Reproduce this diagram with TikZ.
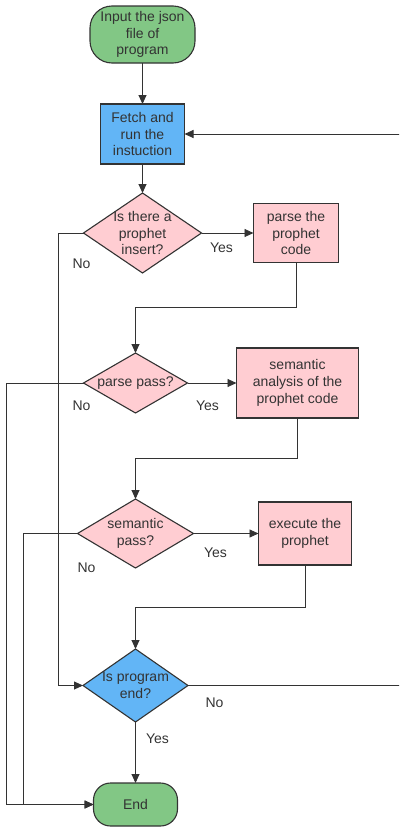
\documentclass[tikz,border=0pt]{standalone}
\usepackage{fontspec}
\setmainfont{Liberation Sans}
\usepackage{tikz}
\usetikzlibrary{arrows.meta, positioning, shapes.geometric}

\definecolor{ink}{HTML}{333333}
\definecolor{termgreen}{HTML}{82C785}
\definecolor{stepblue}{HTML}{62B5F6}
\definecolor{boxpink}{HTML}{FFCDD2}

\begin{document}
\begin{tikzpicture}[
  x=1pt, y=1pt,
  every node/.style={font=\fontsize{14}{16.7}\selectfont, text=ink, align=center, outer sep=0pt},
  terminal/.style={rectangle, draw=ink, line width=1.1pt, rounded corners=22pt, fill=termgreen, inner sep=0pt},
  process/.style={rectangle, draw=ink, line width=1.1pt, fill=boxpink, inner sep=0pt},
  decision/.style={diamond, draw=ink, line width=1.1pt, fill=boxpink, inner sep=-14pt},
  tag/.style={inner sep=0pt},
  arrow/.style={-{Triangle[length=9pt, width=8pt]}, draw=ink, line width=0.9pt},
  line/.style={draw=ink, line width=0.9pt}
]
\useasboundingbox (0,0) rectangle (399,-830);
\clip (0,0) rectangle (399,-830);

% Main column
\node[terminal, minimum width=105pt, minimum height=57pt] (start) at (142.5,-34.5) {Input the json\\file of\\program};
\node[process, fill=stepblue, minimum width=84pt, minimum height=60pt, below=41pt of start] (fetch) {Fetch and\\run the\\instuction};
\node[decision, minimum width=118pt, minimum height=80pt, below=29pt of fetch] (ask) {Is there a\\prophet\\insert?};
\node[decision, minimum width=104pt, minimum height=60pt, below=80pt of ask, xshift=-7pt] (pass) {parse pass?};
\node[decision, minimum width=116pt, minimum height=69pt, below=86pt of pass] (sempass) {semantic\\pass?};
\node[decision, fill=stepblue, minimum width=105pt, minimum height=73pt, below=81pt of sempass] (check) {Is program\\end?};
\node[terminal, rounded corners=17pt, minimum width=84pt, minimum height=43pt, below=61pt of check] (finish) {End};

% Prophet nodes
\node[process, minimum width=85pt, minimum height=59pt, right=52pt of ask] (parse) {parse the\\prophet\\code};
\node[process, minimum width=122pt, minimum height=70pt, right=49pt of pass] (analyse) {semantic\\analysis of the\\prophet code};
\node[process, minimum width=93pt, minimum height=63pt, right=65pt of sempass] (execute) {execute the\\prophet};

% Arrows
\draw[arrow] (start) -- (fetch);
\draw[arrow] (fetch) -- (ask);
\draw[arrow] (ask) -- (parse);
\draw[arrow] (parse.south) -- ++(0,-45) -| (pass.north);
\draw[arrow] (pass) -- (analyse);
\draw[arrow] (analyse.south) -- ++(0,-40) -| (sempass.north);
\draw[arrow] (sempass) -- (execute);
\draw[arrow] (execute.south) -- ++(0,-42) -| (check.north);
\draw[arrow] (check) -- (finish);
\draw[arrow] (ask.west) -- ++(-25,0) |- (check.west);
\draw[arrow] (pass.west) -- ++(-77,0) |- (finish.west);
\draw[arrow] (sempass.west) -- ++(-54,0) |- (finish.west);
\draw[arrow] (check.east) -- ++(230,0) |- (fetch.east);

% Branch labels
\node[tag] (askyes) at ([shift={(20,-15)}]ask.east) {Yes};
\node[tag] (askno) at ([shift={(-2,-31)}]ask.west) {No};
\node[tag] (passyes) at ([shift={(20,-23)}]pass.east) {Yes};
\node[tag] (passno) at ([shift={(-2,-23)}]pass.west) {No};
\node[tag] (semyes) at ([shift={(22,-19.5)}]sempass.east) {Yes};
\node[tag] (semno) at ([shift={(9,-34.5)}]sempass.west) {No};
\node[tag] (checkno) at ([shift={(26.5,-17.5)}]check.east) {No};
\node[tag] (checkyes) at ([shift={(22,-17)}]check.south) {Yes};

\end{tikzpicture}
\end{document}
